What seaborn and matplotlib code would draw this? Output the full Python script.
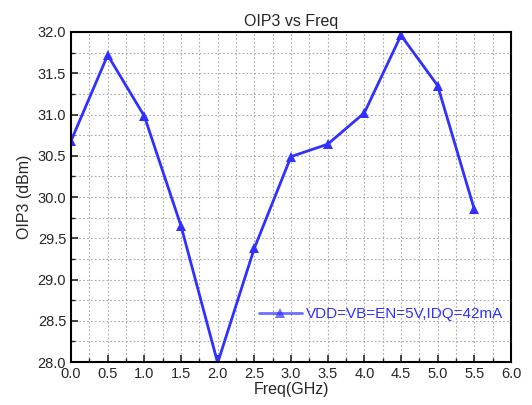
import numpy as np
import pandas as pd
import matplotlib
matplotlib.use('Agg')
import matplotlib.pyplot as plt
from matplotlib.ticker import MultipleLocator
import seaborn as sns

freq = [0.0, 0.5, 1.0, 1.5, 2.0, 2.5, 3.0, 3.5, 4.0, 4.5, 5.0, 5.5]
oip3 = [30.68, 31.72, 30.98, 29.65, 27.99, 29.38, 30.49, 30.64, 31.02, 31.96, 31.35, 29.85]
label = 'VDD=VB=EN=5V,IDQ=42mA'

df = pd.DataFrame({'Freq': freq, 'OIP3': oip3})

sns.set_style('ticks')
plt.rcParams['font.family'] = ['Liberation Sans', 'DejaVu Sans']

fig = plt.figure(figsize=(5.32, 4.05), dpi=100)
ax = fig.add_axes([0.1335, 0.106, 0.827, 0.815])

sns.lineplot(data=df, x='Freq', y='OIP3', ax=ax, color='#3030ff', linewidth=2,
             marker='^', markersize=7, markeredgewidth=0, label=label)

ax.set_xlim(0, 6)
ax.set_ylim(28, 32)
ax.xaxis.set_major_locator(MultipleLocator(0.5))
ax.xaxis.set_minor_locator(MultipleLocator(0.25))
ax.yaxis.set_major_locator(MultipleLocator(0.5))
ax.yaxis.set_minor_locator(MultipleLocator(0.25))
ax.xaxis.set_major_formatter(matplotlib.ticker.FormatStrFormatter('%.1f'))
ax.yaxis.set_major_formatter(matplotlib.ticker.FormatStrFormatter('%.1f'))
ax.grid(which='both', color='#aaaaaa', linestyle=(0, (1.5, 2)), linewidth=0.8)
ax.tick_params(which='both', direction='in', labelsize=10.5)
ax.tick_params(which='major', length=5, width=1.2)
ax.tick_params(which='minor', length=3, width=1)
for s in ax.spines.values():
    s.set_linewidth(1.5)
    s.set_color('black')

ax.set_title('OIP3 vs Freq', fontsize=11.5, pad=4)
ax.set_xlabel('Freq(GHz)', fontsize=11.5, labelpad=1)
ax.set_ylabel('OIP3 (dBm)', fontsize=11.5, labelpad=4)

leg = ax.legend(loc='lower right', bbox_to_anchor=(1.0, 0.1), frameon=False,
                fontsize=11, handlelength=2.8, borderaxespad=0.1, handletextpad=0.3)
for t in leg.get_texts():
    t.set_color('#3030ff')
for h in leg.legend_handles:
    h.set_alpha(0.7)

fig.savefig('out.png', dpi=100)
